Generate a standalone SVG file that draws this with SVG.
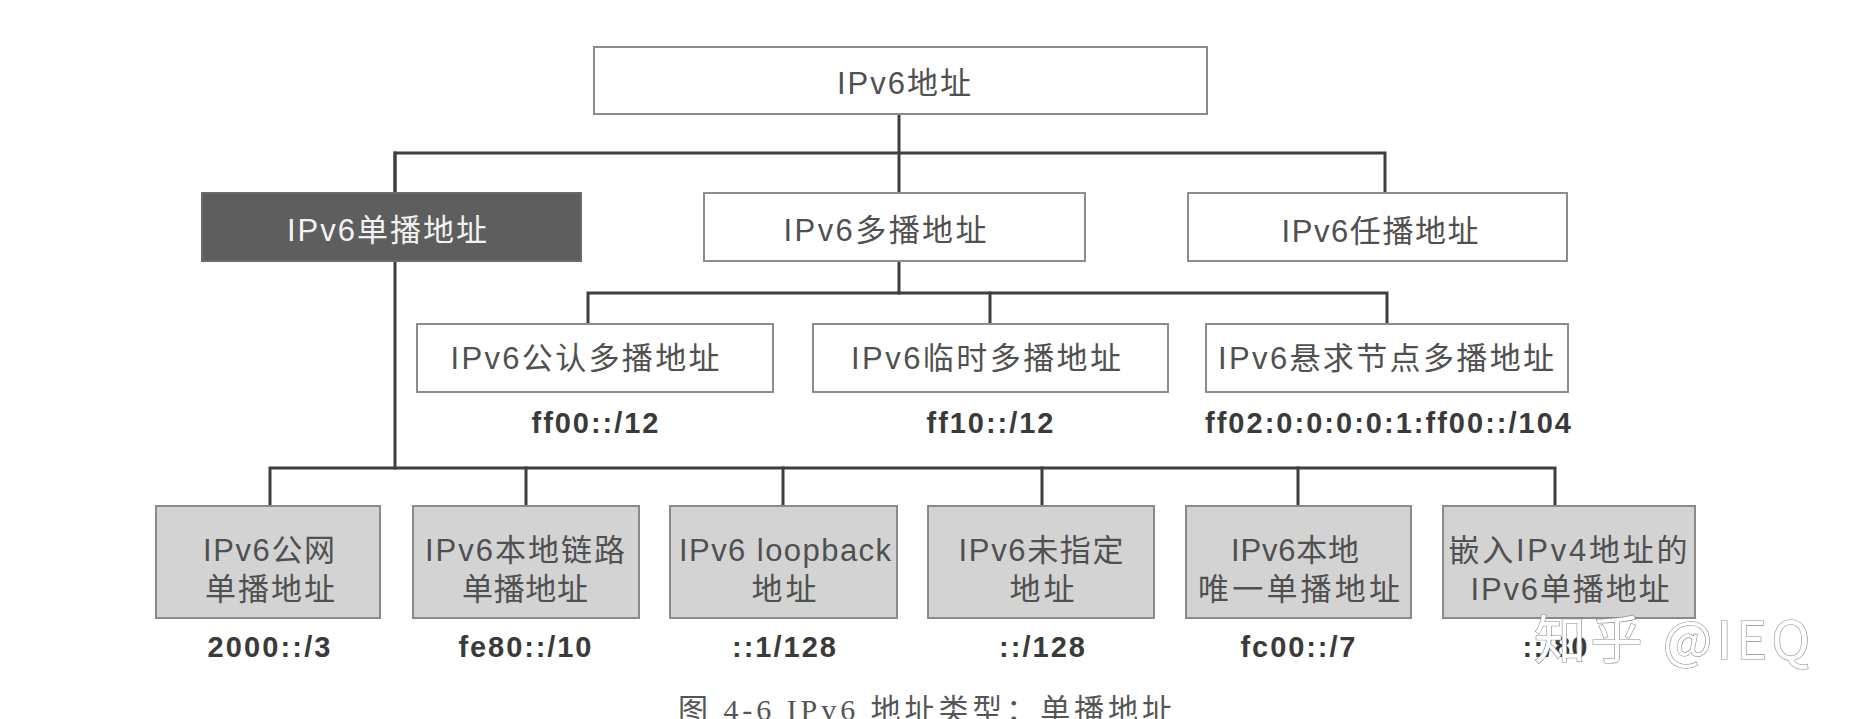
<svg xmlns="http://www.w3.org/2000/svg" width="1856" height="719" viewBox="0 0 1856 719">
<style>
.bg{fill:#ffffff}
.wbox{fill:#ffffff;stroke:#8c8c8c;stroke-width:2}
.gbox{fill:#d3d3d3;stroke:#8a8a8a;stroke-width:2}
.dbox{fill:#5e5e5e;stroke:#6a6a6a;stroke-width:2}
.t{font-family:"Liberation Sans","Noto Sans CJK SC",sans-serif;font-size:31px;fill:#505050;text-anchor:middle}
.tw{fill:#f2f2f2}
.lbl{font-family:"Liberation Sans","Noto Sans CJK SC",sans-serif;font-size:29px;font-weight:bold;fill:#3a3a3a;text-anchor:middle}
.conn{fill:none;stroke:#3e3e3e;stroke-width:3;stroke-linejoin:miter;stroke-linecap:square}
.wm{font-family:"Noto Sans CJK SC","Liberation Sans",sans-serif;font-size:52px;fill:#ffffff;stroke:#8a8a8a;stroke-width:1.2;paint-order:stroke;text-anchor:start}
.cap{font-family:"Liberation Serif","Noto Sans CJK SC",serif;font-size:30px;fill:#555555;text-anchor:start}
</style>
<rect class="bg" x="0" y="0" width="1856" height="719"/>
<g id="connectors">
<path class="conn" d="M899 114 V193"/>
<path class="conn" d="M395 193 V153 H1385 V193"/>
<path class="conn" d="M395 153 V468"/>
<path class="conn" d="M899 261 V293"/>
<path class="conn" d="M588 324 V293 H1387 V324"/>
<path class="conn" d="M990 293 V324"/>
<path class="conn" d="M270 506 V468 H1555 V506"/>
<path class="conn" d="M526 468 V506"/>
<path class="conn" d="M783 468 V506"/>
<path class="conn" d="M1042 468 V506"/>
<path class="conn" d="M1298 468 V506"/>
</g>
<g id="node-ipv6">
<rect class="wbox" x="594" y="47" width="613" height="67"/>
<text class="t" x="904" y="94" textLength="134" lengthAdjust="spacing">IPv6地址</text>
</g>
<g id="node-unicast">
<rect class="dbox" x="202" y="193" width="379" height="68"/>
<text class="t tw" x="387" y="241" textLength="200" lengthAdjust="spacing">IPv6单播地址</text>
</g>
<g id="node-multicast">
<rect class="wbox" x="704" y="193" width="381" height="68"/>
<text class="t" x="885" y="241" textLength="203" lengthAdjust="spacing">IPv6多播地址</text>
</g>
<g id="node-anycast">
<rect class="wbox" x="1188" y="193" width="379" height="68"/>
<text class="t" x="1380" y="242" textLength="197" lengthAdjust="spacing">IPv6任播地址</text>
</g>
<g id="node-wellknown">
<rect class="wbox" x="417" y="324" width="356" height="68"/>
<text class="t" x="585" y="369" textLength="269" lengthAdjust="spacing">IPv6公认多播地址</text>
<text class="lbl" x="595" y="433" textLength="127" lengthAdjust="spacing">ff00::/12</text>
</g>
<g id="node-transient">
<rect class="wbox" x="813" y="324" width="355" height="68"/>
<text class="t" x="986" y="369" textLength="270" lengthAdjust="spacing">IPv6临时多播地址</text>
<text class="lbl" x="990" y="433" textLength="127" lengthAdjust="spacing">ff10::/12</text>
</g>
<g id="node-solicited">
<rect class="wbox" x="1206" y="324" width="362" height="68"/>
<text class="t" x="1386" y="369" textLength="336" lengthAdjust="spacing">IPv6悬求节点多播地址</text>
<text class="lbl" x="1388" y="433" textLength="366" lengthAdjust="spacing">ff02:0:0:0:0:1:ff00::/104</text>
</g>
<g id="node-global">
<rect class="gbox" x="156" y="506" width="224" height="112"/>
<text class="t" x="269" y="561" textLength="132" lengthAdjust="spacing">IPv6公网</text>
<text class="t" x="270" y="600" textLength="130" lengthAdjust="spacing">单播地址</text>
<text class="lbl" x="269" y="657" textLength="123" lengthAdjust="spacing">2000::/3</text>
</g>
<g id="node-linklocal">
<rect class="gbox" x="413" y="506" width="226" height="112"/>
<text class="t" x="525" y="561" textLength="200" lengthAdjust="spacing">IPv6本地链路</text>
<text class="t" x="525" y="600" textLength="126" lengthAdjust="spacing">单播地址</text>
<text class="lbl" x="525" y="657" textLength="133" lengthAdjust="spacing">fe80::/10</text>
</g>
<g id="node-loopback">
<rect class="gbox" x="670" y="506" width="227" height="112"/>
<text class="t" x="785" y="561" textLength="212" lengthAdjust="spacing">IPv6 loopback</text>
<text class="t" x="784" y="600" textLength="65" lengthAdjust="spacing">地址</text>
<text class="lbl" x="784" y="657" textLength="104" lengthAdjust="spacing">::1/128</text>
</g>
<g id="node-unspecified">
<rect class="gbox" x="928" y="506" width="226" height="112"/>
<text class="t" x="1041" y="561" textLength="165" lengthAdjust="spacing">IPv6未指定</text>
<text class="t" x="1042" y="600" textLength="65" lengthAdjust="spacing">地址</text>
<text class="lbl" x="1042" y="657" textLength="86" lengthAdjust="spacing">::/128</text>
</g>
<g id="node-uniquelocal">
<rect class="gbox" x="1186" y="506" width="225" height="112"/>
<text class="t" x="1295" y="561" textLength="128" lengthAdjust="spacing">IPv6本地</text>
<text class="t" x="1299" y="600" textLength="202" lengthAdjust="spacing">唯一单播地址</text>
<text class="lbl" x="1298" y="657" textLength="115" lengthAdjust="spacing">fc00::/7</text>
</g>
<g id="node-embedded">
<rect class="gbox" x="1443" y="506" width="252" height="112"/>
<text class="t" x="1568" y="561" textLength="239" lengthAdjust="spacing">嵌入IPv4地址的</text>
<text class="t" x="1570" y="600" textLength="199" lengthAdjust="spacing">IPv6单播地址</text>
<text class="lbl" x="1555" y="657" textLength="65" lengthAdjust="spacing">::/80</text>
</g>
<text class="wm" x="1534" y="659" textLength="276" lengthAdjust="spacing">知乎 @IEQ</text>
<text class="cap" x="678" y="720" textLength="494" lengthAdjust="spacing">图 4-6   IPv6 地址类型：单播地址</text>
</svg>
